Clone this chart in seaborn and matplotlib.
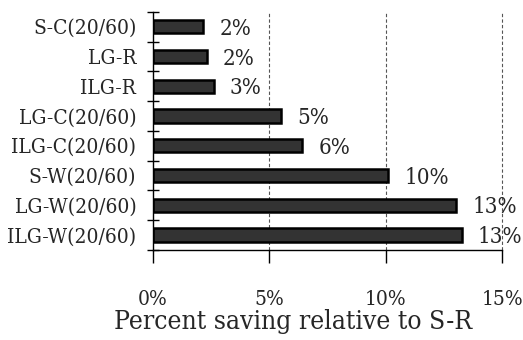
import numpy as np
import pandas as pd
import matplotlib
matplotlib.use("Agg")
import matplotlib.pyplot as plt
import seaborn as sns
from matplotlib.ticker import FixedLocator, FuncFormatter

# 数据
categories = ["S-C(20/60)", "LG-R", "ILG-R", "LG-C(20/60)", "ILG-C(20/60)",
              "S-W(20/60)", "LG-W(20/60)", "ILG-W(20/60)"]
savings = [2.15, 2.3, 2.6, 5.5, 6.4, 10.1, 13.0, 13.25]
value_labels = ["2%", "2%", "3%", "5%", "6%", "10%", "13%", "13%"]
x_ticks = [0, 5, 10, 15]

sns.set_theme(style="white")
# 使用窄体衬线字体
plt.rcParams['font.family'] = ['DejaVu Serif']
plt.rcParams['font.stretch'] = 'condensed'

df = pd.DataFrame({'category': categories, 'saving': savings})

fig = plt.figure(figsize=(5.23, 3.4), dpi=100, facecolor='white')
ax = fig.add_axes([0.2925, 0.265, 0.668, 0.70])

sns.barplot(data=df, x='saving', y='category', orient='h', color='#333333',
            saturation=1, edgecolor='black', linewidth=1.8, width=0.45, ax=ax)

ax.set_xlim(0, 15)
ax.set_ylim(7.5, -0.5)

# 网格线
ax.xaxis.set_major_locator(FixedLocator(x_ticks))
ax.xaxis.set_major_formatter(FuncFormatter(lambda v, p: f"{int(v)}%"))
for v in x_ticks[1:]:
    ax.axvline(v, color='#555555', linestyle=(0, (3, 2)), linewidth=0.8,
               zorder=0, clip_on=False)

# 边框
for s in ['top', 'right']:
    ax.spines[s].set_visible(False)
for s in ['left', 'bottom']:
    ax.spines[s].set_color('black')
    ax.spines[s].set_linewidth(1.0)

ax.tick_params(axis='x', direction='out', length=9, width=1, color='black',
               pad=20, labelsize=15, bottom=True)
ax.tick_params(axis='y', which='major', length=0, pad=12, labelsize=15)
ax.set_yticks(np.arange(-0.5, 8, 1), minor=True)
ax.tick_params(axis='y', which='minor', direction='inout', length=8, width=1,
               color='black', left=True)

ax.set_ylabel('')
ax.set_xlabel('Percent saving relative to S-R', fontsize=19)
ax.xaxis.set_label_coords(0.40, -0.25)

# 数值标签
for i, (v, lab) in enumerate(zip(savings, value_labels)):
    ax.text(v + 0.7, i + 0.07, lab, va='center', ha='left', fontsize=16)

plt.savefig('out.png', dpi=100, facecolor='white')
plt.close()
